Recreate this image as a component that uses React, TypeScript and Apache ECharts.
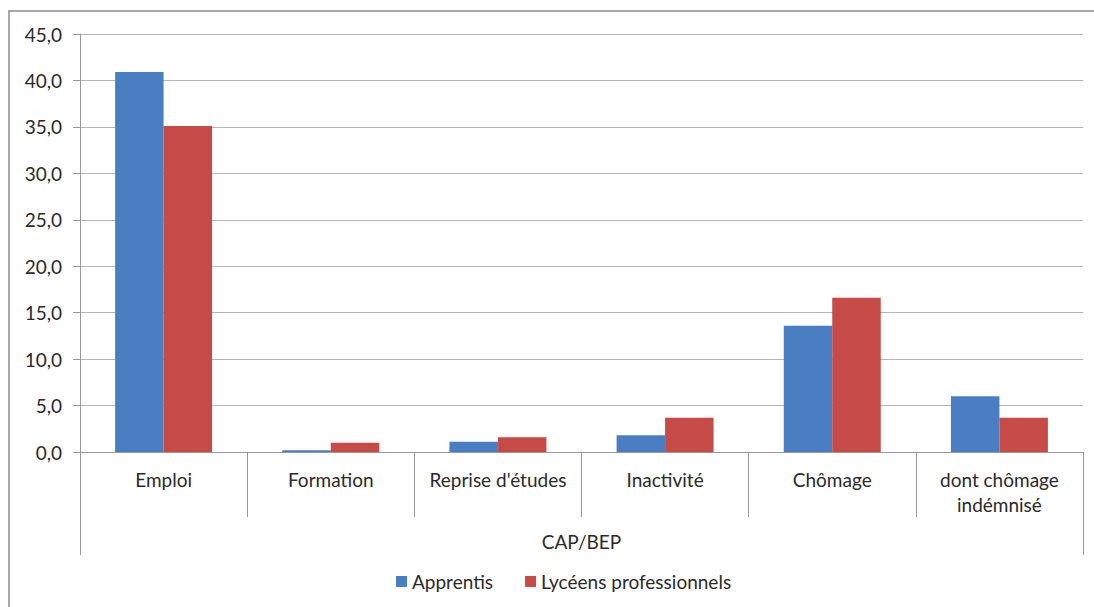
import React, { useEffect, useRef } from "react";
import * as echarts from "echarts";

const categories = ["Emploi", "Formation", "Reprise d'études", "Inactivité", "Chômage", "dont chômage\nindémnisé"];
const groupLabel = ["CAP/BEP"];
const seriesNames = ["Apprentis", "Lycéens professionnels"];
const apprentis = [40.9, 0.2, 1.1, 1.8, 13.6, 6.0];
const lyceens = [35.1, 1.0, 1.6, 3.7, 16.6, 3.7];
const colors = ["#4A7EC2", "#C64A46"];

const FONT = "Lato, 'Open Sans', sans-serif";
const FS = 19;
const TXT = "#2a2a2a";

export default function App() {
  const ref = useRef<HTMLDivElement>(null);
  useEffect(() => {
    if (!ref.current) return;
    const chart = echarts.init(ref.current, null, { renderer: "svg" });
    chart.setOption({
      animation: false,
      backgroundColor: "#ffffff",
      textStyle: { fontFamily: FONT },
      graphic: [
        {
          type: "rect",
          shape: { x: 9, y: 11, width: 1200, height: 700 },
          style: { fill: "none", stroke: "#8c8c8c", lineWidth: 1.5 },
          silent: true,
        },
      ],
      grid: { left: 80, right: 11, top: 34, bottom: 155, containLabel: false },
      legend: {
        top: 567,
        left: 391,
        itemWidth: 11,
        itemHeight: 11,
        itemGap: 32,
        icon: "rect",
        textStyle: { fontFamily: FONT, fontSize: FS, color: TXT, padding: [0, 0, 0, 0] },
        data: seriesNames,
      },
      xAxis: [
        {
          type: "category",
          data: categories,
          axisLine: { show: true, lineStyle: { color: "#999", width: 1 } },
          axisTick: { show: true, length: 65, lineStyle: { color: "#999" } },
          axisLabel: {
            interval: 0,
            margin: 15,
            fontFamily: FONT,
            fontSize: FS,
            color: TXT,
            lineHeight: 25,
          },
        },
        {
          type: "category",
          data: groupLabel,
          position: "bottom",
          axisLine: { show: false },
          axisTick: { show: true, length: 103, lineStyle: { color: "#999" } },
          axisLabel: { margin: 80, fontFamily: FONT, fontSize: FS, color: TXT },
        },
      ],
      yAxis: {
        type: "value",
        min: 0,
        max: 45,
        interval: 5,
        axisLine: { show: true, lineStyle: { color: "#999" } },
        axisTick: { show: true, length: 7, lineStyle: { color: "#999" } },
        splitLine: { show: true, lineStyle: { color: "#b5b5b5", width: 1 } },
        axisLabel: {
          margin: 18,
          fontFamily: FONT,
          fontSize: FS,
          color: TXT,
          formatter: (v: number) => v.toFixed(1).replace(".", ","),
        },
      },
      series: [
        {
          name: seriesNames[0],
          type: "bar",
          data: apprentis,
          itemStyle: { color: colors[0] },
          barGap: "0%",
          barCategoryGap: "42%",
        },
        {
          name: seriesNames[1],
          type: "bar",
          data: lyceens,
          itemStyle: { color: colors[1] },
          barGap: "0%",
          barCategoryGap: "42%",
        },
      ],
    });
    return () => chart.dispose();
  }, []);
  return (
    <div
      ref={ref}
      style={{ position: "absolute", left: 0, top: 0, width: 1094, height: 607 }}
    />
  );
}
